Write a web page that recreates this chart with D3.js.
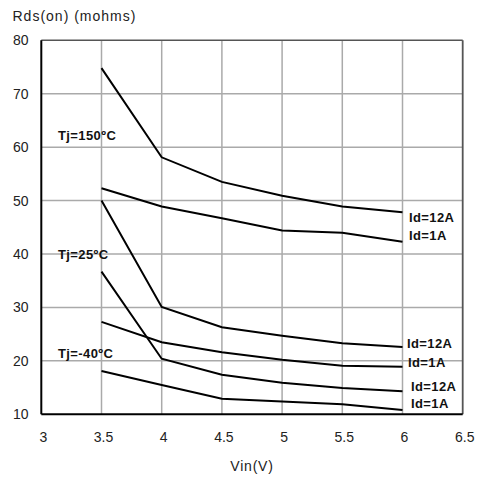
<!DOCTYPE html>
<html>
<head>
<script src="https://d3js.org/d3.v7.min.js"></script>
<style type="text/css">
body { margin:0; background:#fff; }
text { font-family: Arial, "Liberation Sans", sans-serif; fill:#222; }
.tick-label { font-size:14px; }
.curve-label { font-size:13px; font-weight:bold; fill:#111; letter-spacing:0.4px; }
.grid { stroke:#aaa; stroke-width:1.5; }
</style>
</head>
<body>
<svg id="chart"></svg>
<script>
// chart values
var vin = [3.5, 4, 4.5, 5, 5.5, 6];
var xTicks = [3, 3.5, 4, 4.5, 5, 5.5, 6, 6.5];
var yTicks = [10, 20, 30, 40, 50, 60, 70, 80];

var hot12A  = [74.8, 58.1, 53.5, 50.9, 48.9, 47.8];
var hot1A   = [52.3, 48.9, 46.7, 44.4, 44.0, 42.3];
var room12A = [50.0, 30.1, 26.3, 24.7, 23.3, 22.6];
var room1A  = [27.3, 23.5, 21.6, 20.2, 19.1, 18.9];
var cold12A = [36.7, 20.4, 17.4, 15.9, 14.9, 14.3];
var cold1A  = [18.1, 15.5, 12.9, 12.4, 11.9, 10.8];

var series = [hot12A, hot1A, room12A, room1A, cold12A, cold1A];
var seriesLabels = ["Id=12A", "Id=1A", "Id=12A", "Id=1A", "Id=12A", "Id=1A"];
var tempLabels = [
  {text: "Tj=150ºC", v: 62.3},
  {text: "Tj=25ºC", v: 40.0},
  {text: "Tj=-40ºC", v: 21.5}
];

var width = 480, height = 477;
var x = d3.scaleLinear().domain([3, 6.5]).range([41.3, 462.7]);
var y = d3.scaleLinear().domain([10, 80]).range([414.3, 40.3]);

var svg = d3.select("#chart").attr("width", width).attr("height", height);

// grid
svg.append("g").selectAll("line.v")
  .data(xTicks.slice(1, -1))
  .enter().append("line")
    .attr("class", "grid")
    .attr("x1", d => x(d)).attr("x2", d => x(d))
    .attr("y1", y(80)).attr("y2", y(10));
svg.append("g").selectAll("line.h")
  .data(yTicks.slice(1, -1))
  .enter().append("line")
    .attr("class", "grid")
    .attr("x1", x(3)).attr("x2", x(6.5))
    .attr("y1", d => y(d)).attr("y2", d => y(d));

// frame: top & right dark grey, left & bottom black
svg.append("line").attr("x1", x(3)).attr("x2", x(6.5)).attr("y1", y(80)).attr("y2", y(80))
  .attr("stroke", "#555").attr("stroke-width", 1.5);
svg.append("line").attr("x1", x(6.5)).attr("x2", x(6.5)).attr("y1", y(80)).attr("y2", y(10))
  .attr("stroke", "#555").attr("stroke-width", 1.8);
svg.append("line").attr("x1", x(3)).attr("x2", x(3)).attr("y1", y(80)).attr("y2", y(10))
  .attr("stroke", "#000").attr("stroke-width", 2);
svg.append("line").attr("x1", x(3)).attr("x2", x(6.5)).attr("y1", y(10)).attr("y2", y(10))
  .attr("stroke", "#000").attr("stroke-width", 2);

// tick labels
svg.append("g").selectAll("text")
  .data(yTicks)
  .enter().append("text")
    .attr("class", "tick-label")
    .attr("x", 28.5)
    .attr("y", d => y(d) + 5)
    .attr("text-anchor", "end")
    .text(d => d);
svg.append("g").selectAll("text")
  .data(xTicks)
  .enter().append("text")
    .attr("class", "tick-label")
    .attr("x", d => x(d) + 2)
    .attr("y", 442)
    .attr("text-anchor", "middle")
    .text(d => d);

// axis titles
svg.append("text")
  .attr("class", "tick-label")
  .attr("x", 12.5).attr("y", 21)
  .style("letter-spacing", "1px")
  .text("Rds(on) (mohms)");
svg.append("text")
  .attr("class", "tick-label")
  .attr("x", 252).attr("y", 471)
  .attr("text-anchor", "middle")
  .style("letter-spacing", "0.8px")
  .text("Vin(V)");

// curves
var line = d3.line()
  .x((d, i) => x(vin[i]))
  .y(d => y(d));

svg.append("g").selectAll("path")
  .data(series)
  .enter().append("path")
    .attr("d", line)
    .attr("fill", "none")
    .attr("stroke", "#000")
    .attr("stroke-width", 2);

// curve labels at the right end
var labelX = [409, 409, 407, 408, 411, 411];
var labelY = [217.3, 235, 343.3, 362.3, 385.7, 402.7];
svg.append("g").selectAll("text")
  .data(series)
  .enter().append("text")
    .attr("class", "curve-label")
    .attr("x", (d, i) => labelX[i])
    .attr("y", (d, i) => labelY[i] + 4.8)
    .text((d, i) => seriesLabels[i]);

svg.append("g").selectAll("text")
  .data(tempLabels)
  .enter().append("text")
    .attr("class", "curve-label")
    .attr("x", 58)
    .attr("y", d => y(d.v) + 4.8)
    .text(d => d.text);
</script>
</body>
</html>
